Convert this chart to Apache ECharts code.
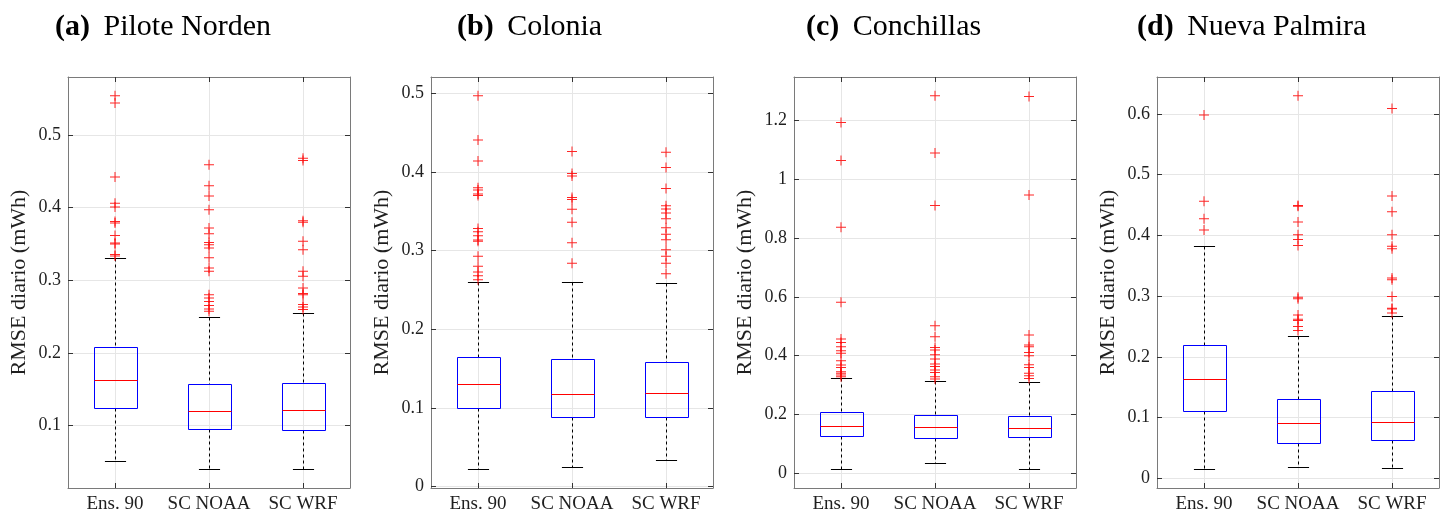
<!DOCTYPE html>
<html>
<head>
<meta charset="utf-8">
<script src="https://cdn.jsdelivr.net/npm/echarts@6/dist/echarts.min.js"></script>
<style>
  html, body { margin: 0; padding: 0; background: #fff; }
  #chart { width: 1450px; height: 518px; }
</style>
</head>
<body>
<div id="chart"></div>
<script>
// ---------- data ----------
const categories = ['Ens. 90', 'SC NOAA', 'SC WRF'];
const categoryPositions = [1, 2, 3];

const panelTags = ['(a)', '(b)', '(c)', '(d)'];
const panelNames = ['Pilote Norden', 'Colonia', 'Conchillas', 'Nueva Palmira'];
const yAxisTitle = 'RMSE diario (mWh)';

// box stats per category: [lower whisker, Q1, median, Q3, upper whisker]
const statsA = [[0.052, 0.125, 0.163, 0.208, 0.331], [0.040, 0.095, 0.120, 0.158, 0.250], [0.040, 0.0945, 0.121, 0.159, 0.2555]];
const statsB = [[0.022, 0.0998, 0.131, 0.165, 0.260], [0.0255, 0.088, 0.118, 0.162, 0.2596], [0.034, 0.088, 0.119, 0.159, 0.259]];
const statsC = [[0.0136, 0.127, 0.162, 0.2076, 0.325], [0.0363, 0.121, 0.1577, 0.1996, 0.315], [0.0136, 0.1225, 0.153, 0.196, 0.312]];
const statsD = [[0.0148, 0.110, 0.1637, 0.2187, 0.382], [0.018, 0.0577, 0.0907, 0.130, 0.2346], [0.0165, 0.0626, 0.0934, 0.1445, 0.2665]];

// outliers
const outA_ens  = [0.554, 0.544, 0.442, 0.406, 0.401, 0.381, 0.379, 0.3615, 0.3515, 0.350, 0.3354, 0.3335];
const outA_noaa = [0.459, 0.430, 0.416, 0.397, 0.372, 0.364, 0.352, 0.349, 0.3446, 0.331, 0.317, 0.3124, 0.280, 0.2758, 0.271, 0.2652, 0.2606, 0.2574];
const outA_wrf  = [0.468, 0.465, 0.382, 0.380, 0.3537, 0.342, 0.3124, 0.3055, 0.2895, 0.2817, 0.280, 0.2666, 0.2634, 0.2597];

const outB_ens  = [0.497, 0.4405, 0.414, 0.380, 0.377, 0.372, 0.370, 0.328, 0.324, 0.319, 0.3135, 0.312, 0.293, 0.280, 0.273, 0.268, 0.263];
const outB_noaa = [0.426, 0.398, 0.395, 0.3675, 0.365, 0.3526, 0.336, 0.310, 0.284];
const outB_wrf  = [0.425, 0.4057, 0.379, 0.357, 0.353, 0.348, 0.3407, 0.329, 0.3207, 0.314, 0.301, 0.293, 0.284, 0.2706];

const outC_ens  = [1.193, 1.064, 0.837, 0.582, 0.457, 0.445, 0.4306, 0.417, 0.408, 0.383, 0.368, 0.360, 0.3456, 0.340, 0.3343, 0.3286];
const outC_noaa = [1.284, 1.089, 0.911, 0.502, 0.4646, 0.428, 0.419, 0.403, 0.389, 0.372, 0.3636, 0.351, 0.343, 0.3286, 0.321];
const outC_wrf  = [1.2816, 0.946, 0.470, 0.4364, 0.4306, 0.411, 0.400, 0.369, 0.360, 0.340, 0.332, 0.3228];

const outD_ens  = [0.598, 0.456, 0.4275, 0.409];
const outD_noaa = [0.630, 0.449, 0.448, 0.422, 0.401, 0.393, 0.3835, 0.298, 0.2956, 0.269, 0.262, 0.260, 0.250, 0.2434];
const outD_wrf  = [0.609, 0.465, 0.439, 0.401, 0.382, 0.378, 0.3297, 0.327, 0.2995, 0.280, 0.2786, 0.272];

// y tick labels
const ticksA = [0.1, 0.2, 0.3, 0.4, 0.5];
const ticksB = [0, 0.1, 0.2, 0.3, 0.4, 0.5];
const ticksC = [0, 0.2, 0.4, 0.6, 0.8, 1, 1.2];
const ticksD = [0, 0.1, 0.2, 0.3, 0.4, 0.5, 0.6];

// ---------- layout / style ----------
const FONT = '"Liberation Serif", "Times New Roman", serif';
const BOX_HALF = 0.225;
const gridLefts = [68, 431, 794, 1157];
const gridWidth = 282;
const gridTop = 77;
const gridHeight = 411;
const titleLefts = [50, 452, 801, 1132];
const FRAME = '#7a7a7a';
const TICK = '#333333';
const GRIDLINE = '#e6e6e6';
const TEXT = '#1f1f1f';

const panels = [
  { stats: statsA, outs: [outA_ens, outA_noaa, outA_wrf], ticks: ticksA },
  { stats: statsB, outs: [outB_ens, outB_noaa, outB_wrf], ticks: ticksB },
  { stats: statsC, outs: [outC_ens, outC_noaa, outC_wrf], ticks: ticksC },
  { stats: statsD, outs: [outD_ens, outD_noaa, outD_wrf], ticks: ticksD }
];

function fmt(v) { return String(+(+v).toFixed(3)); }

function extentOf(p) {
  let lo = Infinity, hi = -Infinity;
  p.stats.forEach(s => { lo = Math.min(lo, s[0]); hi = Math.max(hi, s[4]); });
  p.outs.forEach(o => o.forEach(v => { lo = Math.min(lo, v); hi = Math.max(hi, v); }));
  const pad = (hi - lo) * 0.05;
  return [lo - pad, hi + pad];
}

function renderBox(params, api) {
  const x = api.value(0);
  const pLo = api.coord([x, api.value(1)]);
  const pQ1 = api.coord([x, api.value(2)]);
  const pMd = api.coord([x, api.value(3)]);
  const pQ3 = api.coord([x, api.value(4)]);
  const pHi = api.coord([x, api.value(5)]);
  const hw = api.size([BOX_HALF, 0])[0];
  const cw = hw / 2;
  const snap = v => Math.round(v) + 0.5;
  const cx = snap(pLo[0]);
  const yLo = snap(pLo[1]), yQ1 = snap(pQ1[1]), yMd = snap(pMd[1]), yQ3 = snap(pQ3[1]), yHi = snap(pHi[1]);
  const xl = Math.round(cx - hw) + 0.5, xr = Math.round(cx + hw) + 0.5;
  const dash = { stroke: '#000', lineWidth: 1, lineDash: [3, 3] };
  const solid = { stroke: '#000', lineWidth: 1 };
  return {
    type: 'group',
    children: [
      { type: 'line', shape: { x1: cx, y1: yHi, x2: cx, y2: yQ3 }, style: dash },
      { type: 'line', shape: { x1: cx, y1: yQ1, x2: cx, y2: yLo }, style: dash },
      { type: 'line', shape: { x1: cx - cw, y1: yHi, x2: cx + cw, y2: yHi }, style: solid },
      { type: 'line', shape: { x1: cx - cw, y1: yLo, x2: cx + cw, y2: yLo }, style: solid },
      { type: 'rect', shape: { x: xl, y: yQ3, width: xr - xl, height: yQ1 - yQ3 },
        style: { fill: 'none', stroke: '#0000ff', lineWidth: 1 } },
      { type: 'line', shape: { x1: xl, y1: yMd, x2: xr, y2: yMd }, style: { stroke: '#ff0000', lineWidth: 1 } }
    ]
  };
}

const PLUS = 'path://M4.5,0L5.5,0L5.5,4.5L10,4.5L10,5.5L5.5,5.5L5.5,10L4.5,10L4.5,5.5L0,5.5L0,4.5L4.5,4.5Z';

const option = {
  backgroundColor: '#ffffff',
  animation: false,
  textStyle: { fontFamily: FONT },
  title: [], grid: [], xAxis: [], yAxis: [], series: []
};

panels.forEach((p, i) => {
  const ext = extentOf(p);
  option.title.push({
    left: titleLefts[i], top: 7,
    text: '{b|' + panelTags[i] + '} {r|' + panelNames[i] + '}',
    textStyle: {
      fontFamily: FONT, fontSize: 30, color: '#000', fontWeight: 'normal',
      rich: {
        b: { fontFamily: FONT, fontSize: 30, fontWeight: 'bold', color: '#000', padding: [0, 6, 0, 0] },
        r: { fontFamily: FONT, fontSize: 30, fontWeight: 'normal', color: '#000' }
      }
    }
  });
  option.grid.push({ left: gridLefts[i], top: gridTop, width: gridWidth, height: gridHeight, containLabel: false });

  const xBase = {
    type: 'value', gridIndex: i, min: 0.5, max: 3.5,
    axisLine: { show: true, onZero: false, lineStyle: { color: FRAME, width: 1 } }
  };
  option.xAxis.push(Object.assign({}, xBase, {
    position: 'bottom',
    axisTick: { show: true, inside: true, length: 5, lineStyle: { color: TICK }, customValues: categoryPositions },
    axisLabel: { show: true, customValues: categoryPositions, margin: 7,
      formatter: v => categories[Math.round(v) - 1] || '',
      fontFamily: FONT, fontSize: 19, color: TEXT },
    splitLine: { show: true, lineStyle: { color: GRIDLINE, width: 1 } }
  }));
  option.xAxis.push(Object.assign({}, xBase, {
    position: 'top',
    axisTick: { show: true, inside: true, length: 5, lineStyle: { color: TICK }, customValues: categoryPositions },
    axisLabel: { show: false },
    splitLine: { show: false }
  }));

  const yBase = {
    type: 'value', gridIndex: i, min: ext[0], max: ext[1],
    axisLine: { show: true, onZero: false, lineStyle: { color: FRAME, width: 1 } }
  };
  option.yAxis.push(Object.assign({}, yBase, {
    position: 'left',
    name: yAxisTitle, nameLocation: 'middle', nameGap: 38,
    nameTextStyle: { fontFamily: FONT, fontSize: 22, color: TEXT },
    axisTick: { show: true, inside: true, length: 5, lineStyle: { color: TICK }, customValues: p.ticks },
    axisLabel: { show: true, customValues: p.ticks, margin: 7, formatter: fmt,
      fontFamily: FONT, fontSize: 18, color: TEXT },
    splitLine: { show: true, lineStyle: { color: GRIDLINE, width: 1 } }
  }));
  option.yAxis.push(Object.assign({}, yBase, {
    position: 'right',
    axisTick: { show: true, inside: true, length: 5, lineStyle: { color: TICK }, customValues: p.ticks },
    axisLabel: { show: false },
    splitLine: { show: false }
  }));

  option.series.push({
    type: 'custom', xAxisIndex: 2 * i, yAxisIndex: 2 * i,
    renderItem: renderBox,
    encode: { x: 0, y: [1, 2, 3, 4, 5] },
    data: p.stats.map((s, k) => [categoryPositions[k]].concat(s)),
    z: 3
  });

  const pts = [];
  p.outs.forEach((arr, k) => arr.forEach(v => pts.push([categoryPositions[k], v])));
  option.series.push({
    type: 'scatter', xAxisIndex: 2 * i, yAxisIndex: 2 * i,
    symbol: PLUS, symbolSize: 10,
    itemStyle: { color: '#ff0000', opacity: 0.85 },
    data: pts, z: 4
  });
});

const chart = echarts.init(document.getElementById('chart'), null, { renderer: 'canvas' });
chart.setOption(option);
</script>
</body>
</html>
